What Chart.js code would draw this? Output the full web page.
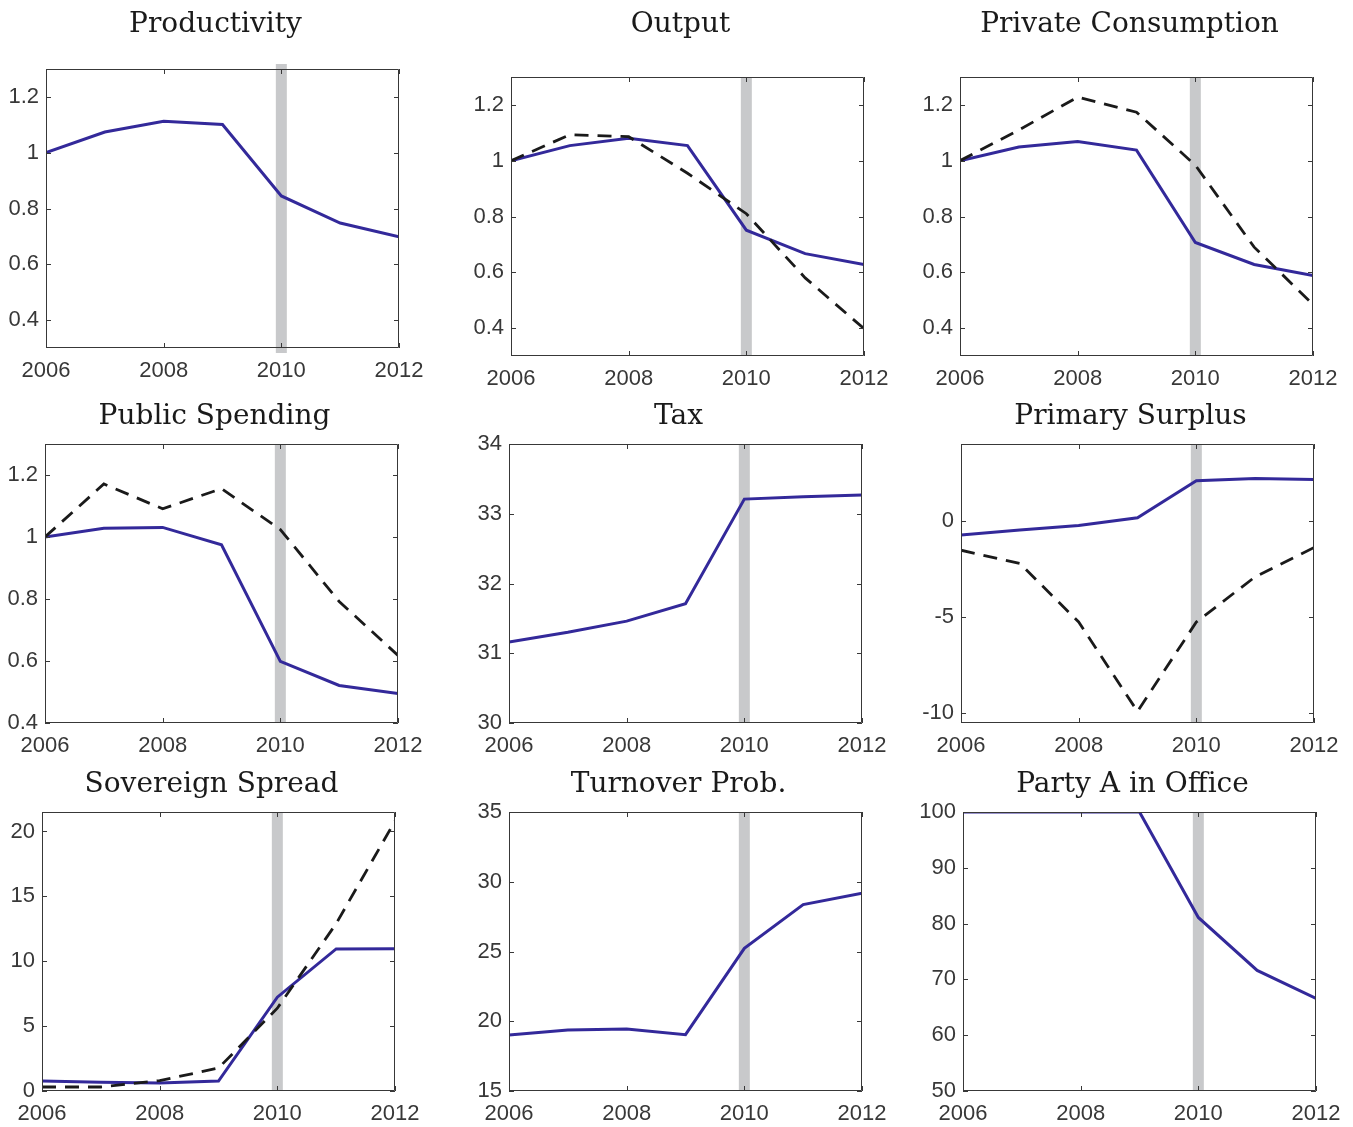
<!DOCTYPE html>
<html><head><meta charset="utf-8">
<script src="https://cdn.jsdelivr.net/npm/chart.js@4.4.0/dist/chart.umd.min.js"></script>
<style>
html,body{margin:0;padding:0;background:#fff;}
body{width:1353px;height:1127px;position:relative;overflow:hidden;}
.pan{position:absolute;}
.pan canvas{display:block;}
</style></head><body>
<script>
// ---------- data ----------
const years = [2006, 2007, 2008, 2009, 2010, 2011, 2012];
const xTicks = [2006, 2008, 2010, 2012];
const markYear = 2010;

const titles = ["Productivity", "Output", "Private Consumption",
                "Public Spending", "Tax", "Primary Surplus",
                "Sovereign Spread", "Turnover Prob.", "Party A in Office"];

const productivitySolid = [1.0, 1.074, 1.113, 1.101, 0.845, 0.748, 0.699];
const outputSolid       = [1.0, 1.054, 1.080, 1.054, 0.751, 0.667, 0.628];
const outputDashed      = [1.0, 1.093, 1.086, 0.955, 0.810, 0.580, 0.398];
const consumptionSolid  = [1.0, 1.049, 1.069, 1.038, 0.707, 0.628, 0.588];
const consumptionDashed = [1.0, 1.110, 1.228, 1.174, 0.984, 0.690, 0.485];
const spendingSolid     = [1.0, 1.028, 1.031, 0.975, 0.599, 0.521, 0.495];
const spendingDashed    = [1.0, 1.171, 1.091, 1.156, 1.024, 0.792, 0.618];
const taxSolid          = [31.16, 31.30, 31.46, 31.71, 33.21, 33.245, 33.27];
const surplusSolid      = [-0.73, -0.47, -0.24, 0.17, 2.09, 2.21, 2.16];
const surplusDashed     = [-1.52, -2.21, -5.25, -9.9, -5.25, -2.9, -1.38];
const spreadSolid       = [0.77, 0.67, 0.62, 0.77, 7.23, 10.95, 10.97];
const spreadDashed      = [0.31, 0.31, 0.80, 1.77, 6.38, 12.9, 20.8];
const turnoverSolid     = [19.01, 19.37, 19.44, 19.04, 25.23, 28.36, 29.17];
const partyASolid       = [100, 100, 100, 100, 81.1, 71.6, 66.6];

const yTicksRatio    = [0.4, 0.6, 0.8, 1, 1.2];
const yTicksTax      = [30, 31, 32, 33, 34];
const yTicksSurplus  = [-10, -5, 0];
const yTicksSpread   = [0, 5, 10, 15, 20];
const yTicksTurnover = [15, 20, 25, 30, 35];
const yTicksParty    = [50, 60, 70, 80, 90, 100];

const yRanges = [[0.3, 1.3], [0.3, 1.3], [0.3, 1.3], [0.4, 1.3], [30, 34],
                 [-10.5, 4], [0, 21.5], [15, 35], [50, 100]];
const yTickSets = [yTicksRatio, yTicksRatio, yTicksRatio, yTicksRatio, yTicksTax,
                   yTicksSurplus, yTicksSpread, yTicksTurnover, yTicksParty];
const solidSeries = [productivitySolid, outputSolid, consumptionSolid, spendingSolid,
                     taxSolid, surplusSolid, spreadSolid, turnoverSolid, partyASolid];
const dashedSeries = [null, outputDashed, consumptionDashed, spendingDashed,
                      null, surplusDashed, spreadDashed, null, null];

// ---------- layout (pixels) ----------
const PLOT_W = 353, PLOT_H = 279;
const YW = 70, RP = 46, XH = 45;
const TITLE_SIZE = 28, TITLE_LH = TITLE_SIZE * 1.2, TITLE_SHIFT = -7;
const panelLayout = [
  {left: 46,  top: 69,  titleY: 25,  over: 5},
  {left: 511, top: 77,  titleY: 25,  over: 0},
  {left: 960, top: 77,  titleY: 25,  over: 0},
  {left: 45,  top: 444, titleY: 417, over: 0},
  {left: 509, top: 444, titleY: 417, over: 0},
  {left: 961, top: 444, titleY: 417, over: 0},
  {left: 42,  top: 812, titleY: 785, over: 0},
  {left: 509, top: 812, titleY: 785, over: 0},
  {left: 963, top: 812, titleY: 785, over: 0}
];

const AXIS_COLOR = '#383838';
const BLUE = '#33299a';
const DASH = '#1a1a1a';
const BAR = '#c8c9cb';

const framePlugin = {
  id: 'frame',
  beforeDatasetsDraw(chart, args, opts) {
    const {ctx, chartArea: a, scales: {x}} = chart;
    const px = x.getPixelForValue(markYear);
    ctx.save();
    ctx.fillStyle = BAR;
    ctx.fillRect(px - 5.5, a.top - opts.over, 11, (a.bottom - a.top) + 2 * opts.over);
    ctx.restore();
  },
  afterDatasetsDraw(chart) {
    const {ctx, chartArea: a, scales: {x, y}} = chart;
    ctx.save();
    ctx.strokeStyle = AXIS_COLOR;
    ctx.lineWidth = 1;
    ctx.beginPath();
    ctx.rect(a.left + 0.5, a.top + 0.5, a.right - a.left - 1, a.bottom - a.top - 1);
    const TL = 5;
    y.ticks.forEach(t => {
      const py = Math.round(y.getPixelForValue(t.value)) + 0.5;
      ctx.moveTo(a.left, py); ctx.lineTo(a.left + TL, py);
      ctx.moveTo(a.right, py); ctx.lineTo(a.right - TL, py);
    });
    x.ticks.forEach(t => {
      const px = Math.round(x.getPixelForValue(t.value)) + 0.5;
      ctx.moveTo(px, a.bottom); ctx.lineTo(px, a.bottom - TL);
      ctx.moveTo(px, a.top); ctx.lineTo(px, a.top + TL);
    });
    ctx.stroke();
    ctx.restore();
  },
  afterDraw(chart, args, opts) {
    const {ctx, chartArea: a} = chart;
    ctx.save();
    ctx.fillStyle = '#1a1a1a';
    ctx.font = `normal ${TITLE_SIZE}px 'DejaVu Serif', serif`;
    ctx.textAlign = 'center';
    ctx.textBaseline = 'middle';
    ctx.fillText(opts.text, (a.left + a.right) / 2 + TITLE_SHIFT, TITLE_LH / 2);
    ctx.restore();
  }
};

function makePanel(i) {
  const L = panelLayout[i];
  const canvasTop = Math.round(L.titleY - TITLE_LH / 2);
  const W = YW + PLOT_W + RP;
  const H = (L.top - canvasTop) + PLOT_H + XH;
  const div = document.createElement('div');
  div.className = 'pan';
  div.style.left = (L.left - YW) + 'px';
  div.style.top = canvasTop + 'px';
  div.style.width = W + 'px';
  div.style.height = H + 'px';
  const cv = document.createElement('canvas');
  cv.width = W; cv.height = H;
  cv.style.width = W + 'px'; cv.style.height = H + 'px';
  div.appendChild(cv);
  document.body.appendChild(div);

  const datasets = [];
  if (dashedSeries[i]) {
    datasets.push({
      data: years.map((yr, k) => ({x: yr, y: dashedSeries[i][k]})),
      borderColor: DASH, borderWidth: 2.8, borderDash: [14, 9],
      pointRadius: 0, tension: 0, fill: false
    });
  }
  datasets.push({
    data: years.map((yr, k) => ({x: yr, y: solidSeries[i][k]})),
    borderColor: BLUE, borderWidth: 3,
    pointRadius: 0, tension: 0, fill: false
  });

  const tickFont = {family: "'Liberation Sans', Arial, sans-serif", size: 22};
  new Chart(cv, {
    type: 'line',
    data: {datasets},
    plugins: [framePlugin],
    options: {
      responsive: false,
      animation: false,
      devicePixelRatio: 1,
      layout: {padding: {left: 0, right: RP, top: L.top - canvasTop, bottom: 0}},
      plugins: {
        legend: {display: false},
        tooltip: {enabled: false},
        title: {display: false},
        frame: {over: L.over, text: titles[i]}
      },
      scales: {
        x: {
          type: 'linear', min: years[0], max: years[years.length - 1],
          afterBuildTicks: s => { s.ticks = xTicks.map(v => ({value: v})); },
          afterFit: s => { s.height = XH; },
          grid: {display: false, drawTicks: false},
          border: {display: false},
          ticks: {autoSkip: false, maxRotation: 0, padding: 10, color: AXIS_COLOR,
                  font: tickFont, callback: v => String(v)}
        },
        y: {
          type: 'linear', min: yRanges[i][0], max: yRanges[i][1],
          afterBuildTicks: s => { s.ticks = yTickSets[i].map(v => ({value: v})); },
          afterFit: s => { s.width = YW; },
          grid: {display: false, drawTicks: false},
          border: {display: false},
          ticks: {autoSkip: false, padding: 7, color: AXIS_COLOR,
                  font: tickFont, callback: v => String(v)}
        }
      }
    }
  });
}

for (let i = 0; i < 9; i++) makePanel(i);
</script>
</body></html>
